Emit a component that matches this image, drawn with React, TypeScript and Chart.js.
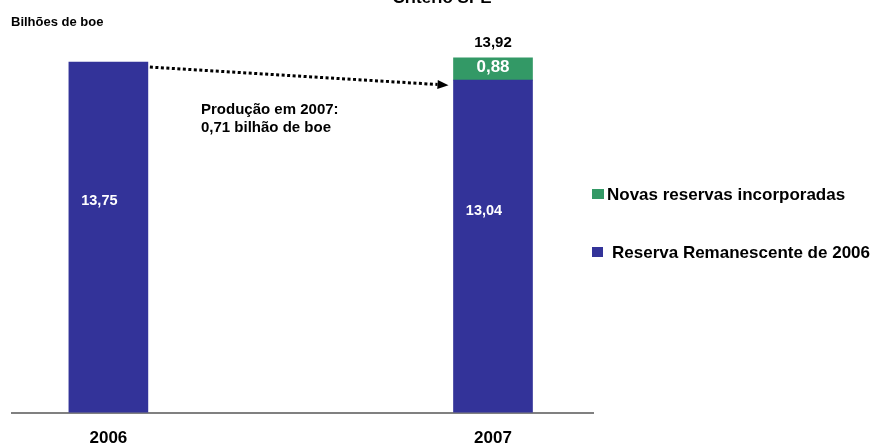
import React, { useEffect, useRef } from "react";
import { Chart, registerables } from "chart.js";

Chart.register(...registerables);

const categories = ["2006", "2007"];
const remanescente = [13.75, 13.04];
const novas = [null, 0.88];
const totals = [null, 13.92];
const labelRemanescente = "Reserva Remanescente de 2006";
const labelNovas = "Novas reservas incorporadas";
const title = "Critério SPE";
const unitLabel = "Bilhões de boe";
const noteLines = ["Produção em 2007:", "0,71 bilhão de boe"];

const BLUE = "#333399";
const GREEN = "#339966";
const FONT = "'Liberation Sans', Arial, sans-serif";

const fmt = (v: number) => v.toFixed(2).replace(".", ",");

const overlay = {
  id: "overlay",
  afterDatasetsDraw(chart: any) {
    const ctx = chart.ctx;
    const y = chart.scales.y;
    const m0 = chart.getDatasetMeta(0);
    const m1 = chart.getDatasetMeta(1);
    ctx.save();
    // title (cut off at top)
    ctx.fillStyle = "#000";
    ctx.font = `bold 17px ${FONT}`;
    ctx.textAlign = "center";
    ctx.textBaseline = "alphabetic";
    ctx.fillText(title, 442, 3);
    // unit label
    ctx.textAlign = "left";
    ctx.font = `bold 13px ${FONT}`;
    ctx.textBaseline = "middle";
    ctx.fillText(unitLabel, 11, 22);

    // value labels in bars
    ctx.font = `bold 14.5px ${FONT}`;
    ctx.textAlign = "center";
    ctx.fillStyle = "#fff";
    m0.data.forEach((bar: any, i: number) => {
      const v = remanescente[i];
      ctx.fillText(fmt(v), bar.x - 9, y.getPixelForValue(v * 0.605));
    });
    m1.data.forEach((bar: any, i: number) => {
      const v = novas[i];
      if (v == null) return;
      ctx.font = `bold 17px ${FONT}`;
      ctx.fillText(fmt(v), bar.x, (bar.y + bar.base) / 2 - 2);
    });
    // totals
    ctx.fillStyle = "#000";
    ctx.font = `bold 15px ${FONT}`;
    m1.data.forEach((bar: any, i: number) => {
      const t = totals[i];
      if (t == null) return;
      ctx.fillText(fmt(t), bar.x, y.getPixelForValue(t) - 15);
    });

    // dotted arrow
    const b0 = m0.data[0];
    const b1 = m1.data[1];
    const x0 = b0.x + b0.width / 2 + 2;
    const y0 = b0.y + 5;
    const x1 = b1.x - b1.width / 2 - 5;
    const y1 = y.getPixelForValue(remanescente[1]) + 5;
    const ang = Math.atan2(y1 - y0, x1 - x0);
    const headLen = 11;
    const lx = x1 - headLen * Math.cos(ang);
    const ly = y1 - headLen * Math.sin(ang);
    ctx.strokeStyle = "#000";
    ctx.lineWidth = 3;
    ctx.setLineDash([3, 2.5]);
    ctx.beginPath();
    ctx.moveTo(x0, y0);
    ctx.lineTo(lx, ly);
    ctx.stroke();
    ctx.setLineDash([]);
    ctx.beginPath();
    ctx.moveTo(x1, y1);
    ctx.lineTo(lx - 4.5 * Math.sin(ang), ly + 4.5 * Math.cos(ang));
    ctx.lineTo(lx + 4.5 * Math.sin(ang), ly - 4.5 * Math.cos(ang));
    ctx.closePath();
    ctx.fillStyle = "#000";
    ctx.fill();

    // note
    ctx.textAlign = "left";
    ctx.font = `bold 15px ${FONT}`;
    ctx.fillText(noteLines[0], 201, 110);
    ctx.fillText(noteLines[1], 201, 128);

    // legend
    ctx.font = `bold 17px ${FONT}`;
    ctx.fillStyle = GREEN;
    ctx.fillRect(592, 189, 12, 10);
    ctx.fillStyle = "#000";
    ctx.fillText(labelNovas, 607, 195);
    ctx.fillStyle = BLUE;
    ctx.fillRect(592, 247, 11, 10);
    ctx.fillStyle = "#000";
    ctx.fillText(labelRemanescente, 612, 253);
    ctx.restore();
  },
};

export default function App() {
  const ref = useRef<HTMLCanvasElement>(null);
  useEffect(() => {
    const chart = new Chart(ref.current!, {
      type: "bar",
      data: {
        datasets: [
          {
            label: labelRemanescente,
            data: remanescente.map((v, i) => ({ x: i, y: v })),
            backgroundColor: BLUE,
            barThickness: 79,
            borderWidth: 0,
          },
          {
            label: labelNovas,
            data: novas.map((v, i) => ({ x: i, y: v })),
            backgroundColor: GREEN,
            barThickness: 79,
            borderWidth: 0,
          },
        ],
      },
      options: {
        animation: false,
        responsive: true,
        maintainAspectRatio: false,
        layout: { padding: { left: 12, right: 277, top: 20, bottom: 0 } },
        plugins: { legend: { display: false }, tooltip: { enabled: false } },
        scales: {
          x: {
            type: "linear",
            stacked: true,
            offset: false,
            min: -0.2506,
            max: 1.26,
            grid: { display: false, drawTicks: false },
            border: { color: "#808080", width: 2 },
            afterBuildTicks: (scale: any) => {
              scale.ticks = categories.map((_, i) => ({ value: i }));
            },
            ticks: {
              padding: 16,
              color: "#000",
              font: { family: FONT, size: 17, weight: "bold" },
              callback: (v: any) => categories[v as number] ?? "",
            },
          },
          y: {
            stacked: true,
            display: false,
            min: 0,
            max: 15.4,
          },
        },
      },
      plugins: [overlay],
    } as any);
    return () => chart.destroy();
  }, []);
  return (
    <div style={{ position: "fixed", left: 0, top: 0, width: 870, height: 445, overflow: "hidden", background: "#fff" }}>
      <div style={{ position: "absolute", left: 0, top: 0, width: 870, height: 465 }}>
        <canvas ref={ref} />
      </div>
    </div>
  );
}
